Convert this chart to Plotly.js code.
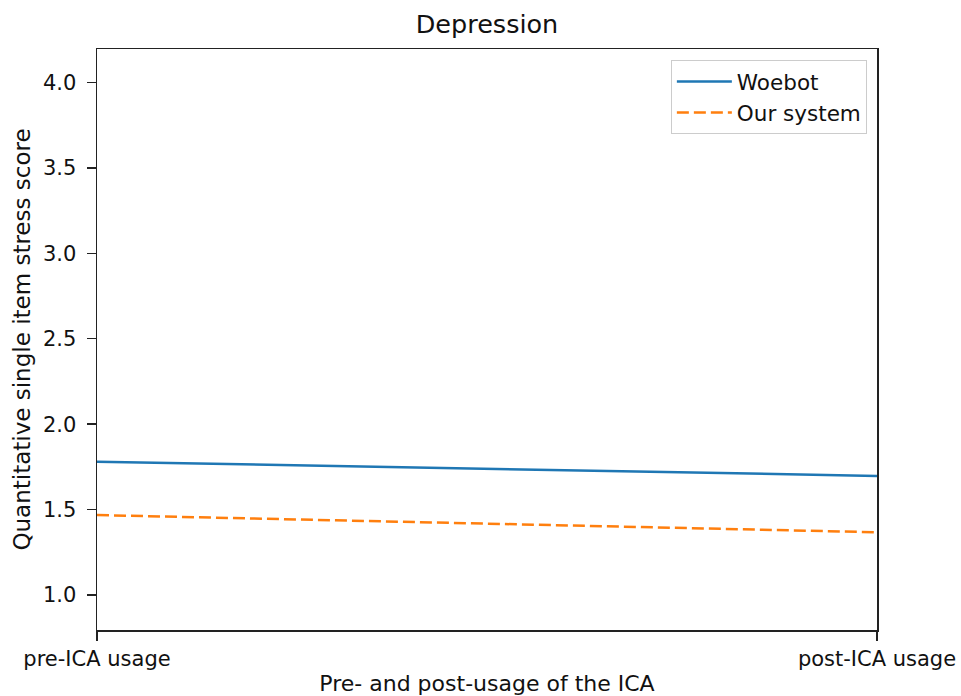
<!DOCTYPE html>
<html>
<head>
<meta charset="utf-8">
<script src="https://cdn.plot.ly/plotly-3.0.1.min.js"></script>
<style>html,body{margin:0;padding:0;background:#fff;}#chart{width:961px;height:696px;}</style>
</head>
<body>
<div id="chart"></div>
<script>
const categories = ["pre-ICA usage", "post-ICA usage"];
const xPositions = [0, 1];
const woebot = [1.78, 1.697];
const ourSystem = [1.468, 1.367];
const yTicks = [1.0, 1.5, 2.0, 2.5, 3.0, 3.5, 4.0];
const yTickLabels = ["1.0", "1.5", "2.0", "2.5", "3.0", "3.5", "4.0"];

const fam = "DejaVu Sans, sans-serif";
const tickFont = {family: fam, size: 21, color: "#111"};

const data = [
  {x: xPositions, y: woebot, name: "Woebot", mode: "lines", type: "scatter",
   line: {color: "#1f77b4", width: 2.5}},
  {x: xPositions, y: ourSystem, name: "Our system", mode: "lines", type: "scatter",
   line: {color: "#ff7f0e", width: 2.5, dash: "12px,5px"}}
];

const layout = {
  width: 961, height: 696,
  margin: {l: 97, r: 84, t: 49, b: 66},
  paper_bgcolor: "#fff", plot_bgcolor: "#fff",
  font: tickFont,
  showlegend: true,
  title: {text: "Depression", font: {family: fam, size: 25.5, color: "#111"}, x: (97 + 877) / 2 / 961, xanchor: "center", y: 1 - 24 / 696, yanchor: "middle"},
  xaxis: {
    range: [0, 1], tickvals: xPositions, ticktext: categories,
    showgrid: false, zeroline: false, showline: true, mirror: true, linecolor: "#222", linewidth: 1.5,
    ticks: "outside", ticklen: 9, tickwidth: 1.5, tickcolor: "#222", tickfont: tickFont,
    automargin: false,
    title: {text: "Pre- and post-usage of the ICA", font: {family: fam, size: 22, color: "#111"}, standoff: 8}
  },
  yaxis: {
    range: [0.795, 4.196], tickvals: yTicks, ticktext: yTickLabels,
    showgrid: false, zeroline: false, showline: true, mirror: true, linecolor: "#222", linewidth: 1.5,
    ticks: "outside", ticklen: 9, tickwidth: 1.5, tickcolor: "#222", tickfont: tickFont,
    ticklabelstandoff: 6,
    automargin: false,
    title: {text: "Quantitative single item stress score", font: {family: fam, size: 23, color: "#111"}, standoff: 6}
  },
  legend: {
    x: 0.987, y: 0.981, xanchor: "right", yanchor: "top",
    bgcolor: "rgba(255,255,255,0.8)", bordercolor: "#ccc", borderwidth: 1,
    itemwidth: 55,
    font: {family: fam, size: 21.5, color: "#111"}
  }
};

Plotly.newPlot("chart", data, layout, {displayModeBar: false, staticPlot: true});
</script>
</body>
</html>
